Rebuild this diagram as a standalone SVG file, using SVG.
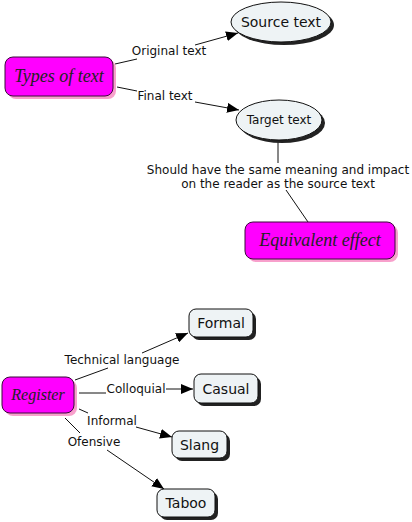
<svg xmlns="http://www.w3.org/2000/svg" width="412" height="522" viewBox="0 0 412 522">
<style>
.mg{fill:#ff00ff;stroke:#3a0a3a;stroke-width:1}
.mgs{fill:#f8a0cc}
.bl{fill:#eef3f5;stroke:#111;stroke-width:1}
.sh{fill:#222}
.ln{stroke:#111;stroke-width:1;fill:none}
.lb{font-family:"DejaVu Sans",Verdana,sans-serif;font-size:12px;fill:#111;text-anchor:middle}
.nt{font-family:"DejaVu Sans",Verdana,sans-serif;fill:#111;text-anchor:middle}
.sc{font-family:"Liberation Serif",serif;font-style:italic;font-size:18px;fill:#222;text-anchor:middle}
</style>
<defs>
<marker id="ar" viewBox="0 0 12 10" refX="12" refY="5" markerWidth="12" markerHeight="10" markerUnits="userSpaceOnUse" orient="auto">
<path d="M0,0 L12,5 L0,10 Z" fill="#000"/>
</marker>
</defs>
<g id="connectors">
<line class="ln" x1="115" y1="64" x2="137" y2="59"/>
<line class="ln" x1="195" y1="45" x2="238" y2="33" marker-end="url(#ar)"/>
<text class="lb" x="169" y="55">Original text</text>
<line class="ln" x1="117" y1="87" x2="137" y2="91"/>
<line class="ln" x1="195" y1="102" x2="239" y2="110" marker-end="url(#ar)"/>
<text class="lb" x="165" y="100">Final text</text>
<line class="ln" x1="278" y1="141" x2="278" y2="163"/>
<line class="ln" x1="286" y1="190" x2="308" y2="222"/>
<text class="lb" x="278" y="174">Should have the same meaning and impact</text>
<text class="lb" x="278" y="188">on the reader as the source text</text>
<line class="ln" x1="75" y1="380" x2="108" y2="368"/>
<line class="ln" x1="142" y1="353" x2="188" y2="333" marker-end="url(#ar)"/>
<text class="lb" x="122" y="364">Technical language</text>
<line class="ln" x1="79" y1="393" x2="106" y2="393"/>
<line class="ln" x1="166" y1="389" x2="193" y2="389" marker-end="url(#ar)"/>
<text class="lb" x="136" y="393">Colloquial</text>
<line class="ln" x1="79" y1="409" x2="88" y2="413"/>
<line class="ln" x1="136" y1="427" x2="172" y2="437" marker-end="url(#ar)"/>
<text class="lb" x="112" y="425">Informal</text>
<line class="ln" x1="65" y1="418" x2="80" y2="433"/>
<line class="ln" x1="107" y1="450" x2="164" y2="489" marker-end="url(#ar)"/>
<text class="lb" x="94" y="446">Ofensive</text>
</g>
<g id="types-of-text">
<rect class="mgs" x="8" y="60" width="108" height="39" rx="8"/>
<rect class="mg" x="5" y="57" width="108" height="39" rx="8"/>
<text class="sc" x="59" y="82">Types of text</text>
</g>
<g id="source-text">
<ellipse class="sh" cx="284" cy="25" rx="50" ry="20"/>
<ellipse class="bl" cx="281" cy="22" rx="50" ry="20"/>
<text class="nt" x="281" y="27" font-size="14">Source text</text>
</g>
<g id="target-text">
<ellipse class="sh" cx="282" cy="123" rx="43" ry="20"/>
<ellipse class="bl" cx="279" cy="120" rx="43" ry="20"/>
<text class="nt" x="279" y="124" font-size="12">Target text</text>
</g>
<g id="equivalent-effect">
<rect class="mgs" x="248" y="225" width="150" height="37" rx="8"/>
<rect class="mg" x="245" y="222" width="150" height="37" rx="8"/>
<text class="sc" x="320" y="246" font-size="19">Equivalent effect</text>
</g>
<g id="register">
<rect class="mgs" x="5" y="380" width="72" height="36" rx="8"/>
<rect class="mg" x="2" y="377" width="72" height="36" rx="8"/>
<text class="sc" x="38" y="400" style="font-size:16px">Register</text>
</g>
<g id="formal">
<rect class="sh" x="192" y="312" width="64" height="28" rx="7"/>
<rect class="bl" x="189" y="309" width="64" height="28" rx="7"/>
<text class="nt" x="221" y="328" font-size="14">Formal</text>
</g>
<g id="casual">
<rect class="sh" x="197" y="377" width="64" height="29" rx="7"/>
<rect class="bl" x="194" y="374" width="64" height="29" rx="7"/>
<text class="nt" x="226" y="394" font-size="14">Casual</text>
</g>
<g id="slang">
<rect class="sh" x="175" y="434" width="55" height="27" rx="7"/>
<rect class="bl" x="172" y="431" width="55" height="27" rx="7"/>
<text class="nt" x="199.5" y="450" font-size="14">Slang</text>
</g>
<g id="taboo">
<rect class="sh" x="160" y="492" width="58" height="28" rx="7"/>
<rect class="bl" x="157" y="489" width="58" height="28" rx="7"/>
<text class="nt" x="186" y="508" font-size="14">Taboo</text>
</g>
</svg>
